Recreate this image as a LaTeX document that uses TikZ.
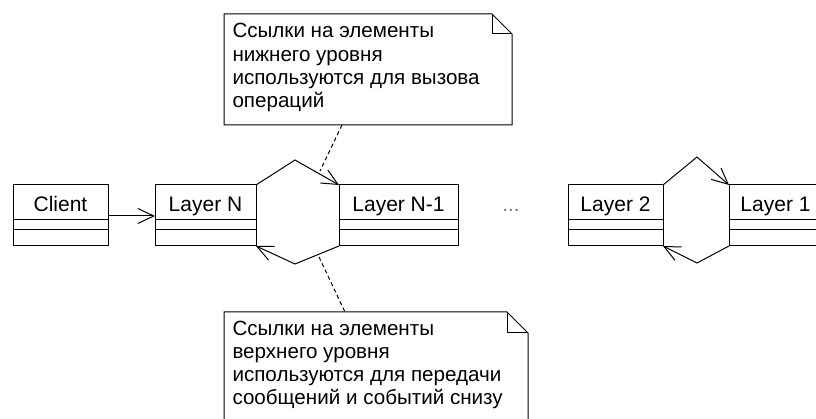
\documentclass[tikz,border=0pt]{standalone}
\usepackage{fontspec}
\setmainfont{Liberation Sans}
\usetikzlibrary{arrows.meta,calc}
\begin{document}
\begin{tikzpicture}[x=1pt,y=-1pt,line width=1pt,
  cls/.style={draw,rectangle,minimum height=61pt,inner sep=0pt,outer sep=0pt,anchor=north west},
  clsname/.style={anchor=base,inner sep=0pt,font=\fontsize{21}{24}\selectfont},
  notebox/.style={rectangle,inner sep=0pt,outer sep=0pt,anchor=north west},
  notetext/.style={anchor=base west,inner sep=0pt,font=\fontsize{20.6}{23}\selectfont},
  nav/.style={-{Straight Barb[length=16pt,width=15pt]}},
  anchorline/.style={dash pattern=on 4pt off 3pt}]
\useasboundingbox (0,0) rectangle (816,419);
\fill[white] (0,0) rectangle (816,419);
\clip (0,0) rectangle (816,419);

% classes
\node[cls,minimum width=95pt]  (client)  at (13,185)  {};
\node[cls,minimum width=101pt] (layerN)  at (155,185) {};
\node[cls,minimum width=119pt] (layerNa) at (339,185) {};
\node[cls,minimum width=95pt]  (layerB)  at (568,185) {};
\node[cls,minimum width=93pt]  (layerA)  at (729,185) {};

\node[clsname] (clientL)  at (client.north  |- 0,212) {Client};
\node[clsname] (layerNL)  at (layerN.north  |- 0,212) {Layer N};
\node[clsname] (layerNaL) at (layerNa.north |- 0,212) {Layer N-1};
\node[clsname] (layerBL)  at (layerB.north  |- 0,212) {Layer 2};
\node[clsname] (layerAL)  at (layerA.north  |- 0,212) {Layer 1};

\foreach \n in {client,layerN,layerNa,layerB,layerA}{
  \draw (\n.north west |- 0,219.3) -- (\n.north east |- 0,219.3);
  \draw (\n.north west |- 0,229.3) -- (\n.north east |- 0,229.3);
}

\node[anchor=base,inner sep=0pt,text=black!55,font=\fontsize{20}{23}\selectfont] (dots) at (511,212) {...};

% connectors
\draw[nav] (client.east |- 0,216) -- (layerN.west |- 0,216);

\coordinate (tN) at (295,160);
\coordinate (bN) at (295,264);
\coordinate (t2) at (697,157);
\coordinate (b2) at (697,263);
\draw[nav] (layerN.north east) -- (tN) -- (layerNa.north west);
\draw[nav] (layerNa.south west) -- (bN) -- (layerN.south east);
\draw[nav] (layerB.north east) -- (t2) -- (layerA.north west);
\draw[nav] (layerA.south west) -- (b2) -- (layerB.south east);

% notes
\node[notebox,minimum width=288pt,minimum height=111pt] (topnote) at (224,14) {};
\draw (topnote.north west) -- ($(topnote.north east)+(-20,0)$) -- ($(topnote.north east)+(0,20)$)
      -- (topnote.south east) -- (topnote.south west) -- cycle;
\draw ($(topnote.north east)+(-20,0)$) -- ++(0,20) -- ++(20,0);
\node[notetext] (t1) at (232,38)  {Ссылки на элементы};
\node[notetext] (t2l) at (232,61.3) {нижнего уровня};
\node[notetext] (t3) at (232,84.6) {используются для вызова};
\node[notetext] (t4) at (232,108) {операций};

\node[notebox,minimum width=304pt,minimum height=130pt] (botnote) at (224,312) {};
\draw (topnote.north west |- botnote.north) -- ($(botnote.north east)+(-21,0)$) -- ($(botnote.north east)+(0,21)$)
      -- (botnote.south east) -- (botnote.south west) -- cycle;
\draw ($(botnote.north east)+(-21,0)$) -- ++(0,21) -- ++(21,0);
\node[notetext] (b1) at (232,335) {Ссылки на элементы};
\node[notetext] (b2l) at (232,358) {верхнего уровня};
\node[notetext] (b3) at (232,381) {используются для передачи};
\node[notetext] (b4) at (232,404) {сообщений и событий снизу};

% note anchors
\coordinate (topAnchor) at (342,125);
\coordinate (topEnd) at (320,171);
\draw[anchorline] (topAnchor) -- (topEnd);
\coordinate (botStart) at (319,257);
\coordinate (botAnchor) at (345,312);
\draw[anchorline] (botStart) -- (botAnchor);
\end{tikzpicture}
\end{document}
